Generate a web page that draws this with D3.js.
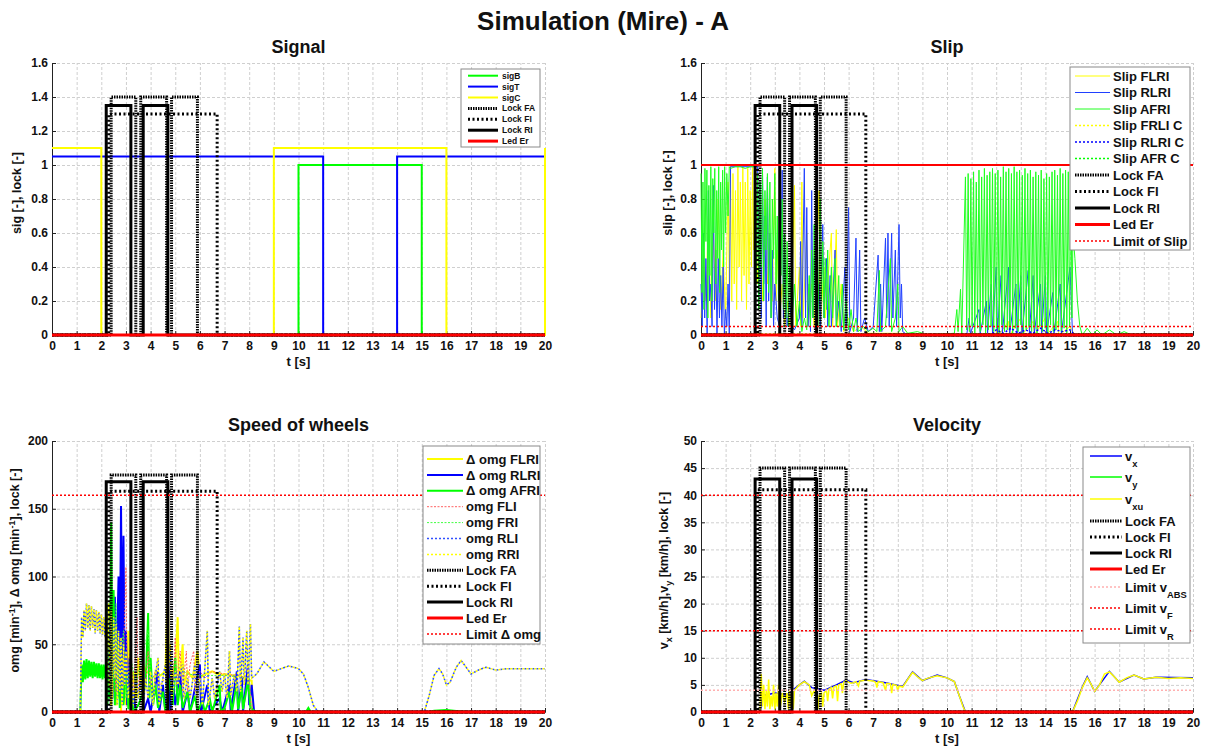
<!DOCTYPE html>
<html>
<head>
<meta charset="utf-8">
<script src="https://cdn.jsdelivr.net/npm/d3@7"></script>
<style>
body { margin: 0; background: #fff; }
text { font-family: "Liberation Sans", Arial, sans-serif; font-weight: bold; fill: #111; }
</style>
</head>
<body>
<div id="fig"></div>
<script>
// ---- data ----
var tTicks = [0,1,2,3,4,5,6,7,8,9,10,11,12,13,14,15,16,17,18,19,20];
var sigTicks = [0,0.2,0.4,0.6,0.8,1,1.2,1.4,1.6];
var omgTicks = [0,50,100,150,200];
var velTicks = [0,5,10,15,20,25,30,35,40,45,50];

// lock states (0/1), scaled per panel
var lockFA_t = [0,2.4,2.4,3.4,3.4,3.6,3.6,4.65,4.65,4.85,4.85,5.9,5.9,20];
var lockFA_s = [0,0,1,1,0,0,1,1,0,0,1,1,0,0];
var lockFI_t = [0,2.3,2.3,6.7,6.7,20];
var lockFI_s = [0,0,1,1,0,0];
var lockRI_t = [0,2.2,2.2,3.2,3.2,3.7,3.7,4.7,4.7,20];
var lockRI_s = [0,0,1,1,0,0,1,1,0,0];
var lockLevelsSig = [1.4, 1.3, 1.35];
var lockLevelsOmg = [175, 163, 170];
var lockLevelsVel = [45, 41, 43];

// Signal
var sigB = [[0,0],[10,0],[10,1],[15,1],[15,0],[20,0]];
var sigT = [[0,1.05],[11,1.05],[11,0],[14,0],[14,1.05],[20,1.05]];
var sigC = [[0,1.1],[2,1.1],[2,0],[9,0],[9,1.1],[16,1.1],[16,0],[20,0],[20,1.1]];
var ledEr = [[0,0],[20,0]];
var slipMax = [[0,1],[20,1]];
var slipLimit = [[0,0.05],[20,0.05]];

// Slip
var slipFLRI = [[0,0.1],[0.1,0.5],[0.2,0.2],[0.3,0.7],[0.4,0.1],[0.5,0.6],[0.6,0.2],[0.7,0.8],[0.8,0.15],[0.9,0.5],[1.0,0.1],[1.1,0.9],[1.15,0.3],[1.2,1.0],[1.25,0.2],[1.3,0.95],[1.35,0.3],[1.4,0.85],[1.45,0.15],[1.5,1.0],[1.55,0.4],[1.6,0.9],[1.65,0.2],[1.7,0.99],[1.75,0.35],[1.8,0.9],[1.85,0.15],[1.9,0.98],[1.95,0.3],[2.0,0.85],[2.05,0.4],[2.1,0.99],[2.15,0.5],[2.2,0.95],[2.3,0.3],[2.4,0.6],[2.5,0.2],[2.6,0.8],[2.7,0.3],[2.8,0.5],[2.9,0.2],[3.0,0.98],[3.05,0.2],[3.1,0.5],[3.2,0.1],[3.3,0.3],[3.4,0.05],[3.5,0.2],[3.6,0.05],[3.7,0.3],[3.8,0.88],[3.85,0.05],[4.0,0.4],[4.05,0.05],[4.1,0.9],[4.15,0.1],[4.3,0.6],[4.35,0.05],[4.5,0.3],[4.6,0.05],[4.8,0.85],[4.85,0.05],[5.0,0.4],[5.05,0.1],[5.3,0.6],[5.35,0.05],[5.5,0.62],[5.55,0.05],[5.7,0.3],[5.8,0.02],[6.0,0.1],[6.2,0.02],[6.5,0.05],[6.8,0.01],[8.0,0.01],[10.5,0],[12.0,0],[12.05,0.1],[12.1,0],[12.5,0.08],[12.55,0],[13.0,0.1],[13.05,0],[13.5,0.08],[13.55,0],[14.0,0.1],[14.05,0],[14.5,0.08],[14.55,0],[15.0,0.05],[15.2,0],[20,0]];
var slipRLRI = [[0,0.3],[0.05,0.05],[0.1,0.6],[0.15,0.1],[0.2,0.45],[0.25,0],[0.3,0.85],[0.35,0.2],[0.4,0.3],[0.45,0.05],[0.5,0.88],[0.55,0.15],[0.6,0.5],[0.65,0],[0.7,0.45],[0.75,0.1],[0.8,0.35],[0.85,0.05],[0.9,0.4],[0.95,0],[1.0,0.15],[1.05,0.05],[1.1,0.3],[1.15,0],[1.2,0.99],[1.5,0.99],[2.0,0.99],[2.3,0.99],[2.35,0.2],[2.4,0.9],[2.45,0.1],[2.5,0.95],[2.55,0.3],[2.6,0.7],[2.65,0.05],[2.7,0.93],[2.75,0.2],[2.8,0.6],[2.85,0.1],[2.9,0.5],[2.95,0.05],[3.0,0.3],[3.1,0.1],[3.2,0.05],[3.3,0.97],[3.35,0.1],[3.4,0.5],[3.5,0.05],[3.6,0.2],[3.7,0.05],[3.8,0.03],[4.0,0.1],[4.05,0.55],[4.1,0.05],[4.2,0.98],[4.25,0.1],[4.3,0.75],[4.35,0.05],[4.4,0.3],[4.45,0.02],[4.5,0.85],[4.55,0.1],[4.6,0.45],[4.7,0.05],[4.8,0.3],[4.85,0.05],[4.95,0.65],[5.0,0.1],[5.1,0.45],[5.15,0.05],[5.25,0.35],[5.3,0.05],[5.45,0.5],[5.5,0.05],[5.6,0.2],[5.7,0.02],[5.85,0.4],[5.9,0.05],[6.0,0.75],[6.05,0.02],[6.2,0.1],[6.3,0.57],[6.35,0.02],[6.45,0.5],[6.5,0.02],[6.65,0.1],[6.8,0.02],[7.0,0.05],[7.2,0.47],[7.25,0.02],[7.3,0.3],[7.35,0.02],[7.5,0.57],[7.55,0.1],[7.6,0.6],[7.65,0.05],[7.75,0.6],[7.8,0.1],[7.9,0.5],[7.95,0.05],[8.05,0.65],[8.1,0.1],[8.15,0.3],[8.2,0.02],[8.4,0],[10.8,0],[10.9,0.1],[10.95,0.01],[11.3,0.15],[11.35,0.01],[11.6,0.2],[11.65,0.01],[11.8,0.3],[11.85,0.01],[12.0,0.4],[12.05,0.01],[12.2,0.35],[12.25,0.01],[12.5,0.4],[12.55,0.01],[12.8,0.3],[12.85,0.01],[13.0,0.35],[13.05,0.01],[13.3,0.38],[13.35,0.01],[13.5,0.35],[13.55,0.01],[13.8,0.3],[13.85,0.01],[14.0,0.35],[14.05,0.01],[14.3,0.25],[14.35,0.01],[14.6,0.3],[14.65,0.01],[15.0,0.4],[15.1,0.01],[15.2,0],[20,0]];
var slipAFRI = [[0,0.95],[0.04,0.25],[0.08,0.9],[0.12,0.15],[0.16,0.98],[0.2,0.55],[0.24,0.97],[0.28,0.1],[0.32,0.88],[0.36,0.35],[0.4,0.99],[0.44,0.2],[0.48,0.92],[0.52,0.6],[0.56,0.98],[0.6,0.3],[0.64,0.85],[0.68,0.45],[0.72,0.99],[0.76,0.25],[0.8,0.9],[0.84,0.5],[0.88,0.97],[0.92,0.4],[0.96,0.99],[1.0,0.6],[1.05,0.95],[1.1,0.7],[1.15,0.99],[1.2,0.98],[1.4,0.99],[1.6,0.99],[1.8,0.98],[2.0,0.99],[2.2,0.99],[2.25,0.3],[2.3,0.95],[2.35,0.15],[2.4,0.9],[2.45,0.4],[2.5,0.98],[2.55,0.2],[2.6,0.85],[2.65,0.5],[2.7,0.95],[2.75,0.25],[2.8,0.9],[2.85,0.1],[2.9,0.8],[2.95,0.45],[3.0,0.95],[3.05,0.3],[3.1,0.7],[3.15,0.2],[3.2,0.9],[3.25,0.35],[3.3,0.8],[3.35,0.15],[3.4,0.6],[3.45,0.1],[3.5,0.55],[3.55,0.05],[3.6,0.4],[3.7,0.08],[3.8,0.3],[3.9,0.05],[4.0,0.2],[4.1,0.02],[4.2,0.1],[4.3,0.03],[4.4,0.35],[4.45,0.05],[4.5,0.5],[4.55,0.1],[4.6,0.65],[4.65,0.15],[4.7,0.4],[4.75,0.05],[4.85,0.8],[4.9,0.2],[4.95,0.55],[5.0,0.1],[5.05,0.45],[5.1,0.15],[5.15,0.5],[5.2,0.05],[5.3,0.4],[5.35,0.1],[5.45,0.45],[5.5,0.05],[5.6,0.35],[5.65,0.05],[5.75,0.3],[5.8,0.03],[5.9,0.2],[6.0,0.03],[6.1,0.15],[6.2,0.02],[6.3,0.1],[6.4,0.02],[6.6,0.05],[6.8,0.02],[7.0,0.04],[7.15,0.02],[7.25,0.38],[7.3,0.02],[7.5,0.05],[7.7,0.45],[7.75,0.02],[7.9,0.1],[8.0,0.3],[8.05,0.02],[8.2,0.05],[8.4,0.01],[8.8,0.02],[9.2,0],[10.3,0.01],[10.4,0.15],[10.45,0.02],[10.55,0.27],[10.6,0],
  [10.75,0.93],[10.8,0.03],[10.86,0.95],[10.91,0.02],[10.97,0.92],[11.02,0.05],[11.08,0.96],[11.13,0.01],[11.19,0.9],[11.24,0.04],[11.3,0.97],[11.35,0.02],[11.41,0.93],[11.46,0.06],[11.52,0.98],[11.57,0.01],[11.63,0.94],[11.68,0.03],[11.74,0.96],[11.79,0.05],[11.85,0.98],[11.9,0.02],[11.96,0.95],[12.01,0.04],[12.07,0.97],[12.12,0.01],[12.18,0.93],[12.23,0.06],[12.29,0.99],[12.34,0.02],[12.4,0.96],[12.45,0.03],[12.51,0.98],[12.56,0.05],[12.62,0.95],[12.67,0.01],[12.73,0.99],[12.78,0.04],[12.84,0.96],[12.89,0.02],[12.95,0.97],[13.0,0.06],[13.06,0.94],[13.11,0.01],[13.17,0.98],[13.22,0.03],[13.28,0.95],[13.33,0.05],[13.39,0.97],[13.44,0.02],[13.5,0.93],[13.55,0.04],[13.61,0.96],[13.66,0.01],[13.72,0.94],[13.77,0.05],[13.83,0.97],[13.88,0.02],[13.94,0.92],[13.99,0.04],[14.05,0.95],[14.1,0.01],[14.16,0.93],[14.21,0.06],[14.27,0.96],[14.32,0.02],[14.38,0.97],[14.43,0.03],[14.49,0.94],[14.54,0.05],[14.6,0.98],[14.65,0.02],[14.71,0.95],[14.76,0.04],[14.82,0.97],[14.87,0.01],[14.93,0.96],[14.98,0.05],[15.04,0.98],[15.08,0.1],[15.12,0.6],[15.2,0.45],[15.3,0.2],[15.4,0.05],[15.5,0],[15.7,0.04],[15.9,0],[16.1,0.03],[16.3,0],[16.6,0.03],[16.9,0],[17.2,0.02],[17.5,0],[20,0]];
var slipFRLIC = [[0,0.005],[20,0.005]];
var slipRLRIC = [[0,0],[11.8,0],[12,0.03],[12.3,0.01],[12.6,0.04],[12.9,0.01],[13.2,0.03],[13.5,0.01],[13.8,0.04],[14.1,0.01],[14.4,0.03],[14.7,0.02],[15,0.03],[15.2,0],[20,0]];
var slipAFRC = [[0,0.005],[20,0.005]];

// Speed of wheels
var dOmgFLRI = [[0,0],[2.2,0],[2.25,40],[2.3,10],[2.35,60],[2.4,5],[2.45,50],[2.5,15],[2.55,70],[2.6,5],[2.65,45],[2.7,20],[2.75,55],[2.8,0],[2.85,40],[2.9,10],[2.95,35],[3.0,5],[3.1,60],[3.15,5],[3.3,30],[3.4,10],[3.5,40],[3.6,20],[3.7,35],[3.8,30],[4.0,28],[4.1,5],[4.2,30],[4.4,27],[4.6,30],[4.7,90],[4.75,10],[4.9,30],[5.0,35],[5.1,70],[5.15,15],[5.3,50],[5.35,20],[5.5,30],[5.7,25],[5.9,45],[6.0,25],[6.2,28],[6.5,30],[6.8,27],[7.0,28],[7.3,27],[7.6,27],[7.9,24],[8.1,23],[8.15,0],[20,0]];
var dOmgRLRI = [[0,0],[2.2,0],[2.3,20],[2.4,60],[2.45,10],[2.55,85],[2.6,20],[2.7,100],[2.75,30],[2.8,152],[2.85,40],[2.9,130],[2.95,20],[3.0,60],[3.05,5],[3.15,40],[3.2,5],[3.3,15],[3.4,0],[3.7,0],[3.9,10],[4.0,0],[4.3,30],[4.35,0],[4.5,20],[4.6,0],[4.75,35],[4.8,0],[4.9,25],[5.0,5],[5.2,30],[5.3,0],[5.5,15],[5.6,0],[6.0,35],[6.05,0],[6.3,20],[6.4,0],[6.8,10],[6.9,0],[7.2,20],[7.25,0],[7.5,30],[7.55,0],[7.7,25],[7.75,0],[7.95,35],[8.0,5],[8.1,20],[8.2,0],[20,0]];
var dOmgAFRI = [[0,0],[1.15,0],[1.2,35],[1.25,22],[1.3,38],[1.35,24],[1.4,39],[1.45,25],[1.5,38],[1.55,26],[1.6,37],[1.65,25],[1.7,37],[1.75,26],[1.8,36],[1.85,25],[1.9,36],[1.95,25],[2.0,35],[2.05,24],[2.1,35],[2.15,25],[2.2,30],[2.25,5],[2.3,80],[2.35,10],[2.4,140],[2.45,20],[2.5,90],[2.55,5],[2.6,60],[2.65,10],[2.7,50],[2.75,3],[2.8,40],[2.9,5],[3.0,30],[3.1,2],[3.2,20],[3.3,0],[3.5,5],[3.8,20],[3.9,73],[3.95,10],[4.0,40],[4.1,5],[4.2,20],[4.3,3],[4.5,15],[4.6,0],[4.8,25],[4.9,5],[5.0,40],[5.1,5],[5.2,20],[5.3,3],[5.5,15],[5.6,0],[5.8,12],[5.9,0],[6.1,8],[6.2,0],[6.4,10],[6.5,0],[6.8,20],[6.85,0],[7.0,3],[7.2,15],[7.3,0],[7.5,22],[7.55,2],[7.7,18],[7.75,2],[7.95,23],[8.05,3],[8.2,1],[8.5,0],[10.3,0],[10.4,3],[10.5,0],[15.3,0],[15.5,1],[16,1.5],[16.5,0.5],[17,0],[20,0]];
var omgFLI = [[0,0],[2.2,0],[2.3,30],[2.4,10],[2.5,45],[2.6,15],[2.7,55],[2.8,20],[2.9,40],[3.0,107],[3.05,20],[3.2,50],[3.3,10],[3.45,70],[3.5,15],[3.6,30],[3.8,20],[3.9,45],[4.0,20],[4.2,30],[4.4,20],[4.6,25],[4.8,35],[4.9,20],[5.0,55],[5.05,20],[5.2,45],[5.3,15],[5.45,45],[5.5,15],[5.6,35],[5.75,45],[5.8,15],[6.0,30],[6.2,25],[6.5,30],[7.0,28],[7.5,27],[8.0,25],[8.1,0],[20,0]];
var omgFRI = [[0,0],[2.2,0],[2.35,50],[2.45,10],[2.6,80],[2.7,20],[2.9,60],[3.0,10],[3.2,40],[3.4,20],[3.9,60],[4.0,25],[4.5,28],[5.0,35],[5.5,28],[6.0,27],[7.0,27],[8.0,25],[8.1,0],[20,0]];
var omgRear = [[0,0],[1.15,0],[1.2,70],[1.25,55],[1.3,75],[1.35,60],[1.4,80],[1.45,62],[1.5,79],[1.55,60],[1.6,78],[1.65,62],[1.7,76],[1.75,58],[1.8,75],[1.85,60],[1.9,74],[1.95,58],[2.0,72],[2.05,57],[2.1,70],[2.15,55],[2.2,66],[2.25,30],[2.3,80],[2.35,20],[2.4,75],[2.45,10],[2.5,70],[2.55,25],[2.6,65],[2.65,5],[2.7,60],[2.75,15],[2.8,55],[2.85,5],[2.9,50],[2.95,20],[3.0,45],[3.1,10],[3.2,35],[3.3,5],[3.4,30],[3.5,10],[3.6,25],[3.7,3],[3.8,25],[3.9,10],[4.0,30],[4.1,5],[4.2,28],[4.3,40],[4.35,5],[4.45,20],[4.6,35],[4.65,5],[4.8,50],[4.85,8],[5.0,30],[5.1,20],[5.3,35],[5.35,10],[5.5,25],[5.6,10],[5.8,35],[5.85,10],[6.0,25],[6.1,5],[6.3,60],[6.35,5],[6.5,25],[6.6,10],[6.8,30],[6.9,15],[7.0,28],[7.1,10],[7.2,45],[7.25,12],[7.4,28],[7.5,15],[7.6,63],[7.65,15],[7.75,55],[7.8,20],[7.9,60],[7.95,20],[8.05,65],[8.1,25],[8.3,28],[8.6,37],[9.0,30],[9.3,32],[9.6,34],[10.0,32],[10.2,28],[10.4,18],[10.6,5],[10.8,0],[15.1,0],[15.3,12],[15.5,27],[15.7,32],[15.85,28],[16.0,20],[16.15,22],[16.4,33],[16.6,38],[16.8,33],[17.0,28],[17.3,31],[17.6,33],[18.0,31],[18.5,32],[19,32],[20,32]];
var omgLimit = [[0,160],[20,160]];

// Velocity
var vx = [[0,0],[2.4,0],[2.5,3],[3.0,3.5],[3.5,3.2],[4.0,5],[4.2,5.7],[4.5,4.5],[5.0,4],[5.5,5],[5.9,5.9],[6.2,5.4],[6.7,6],[7.5,5.4],[8.2,4.7],[8.6,7.4],[9.0,5.8],[9.6,6.8],[10.0,6.3],[10.3,5.6],[10.5,3],[10.75,0],[15.1,0],[15.5,4.6],[15.7,6.5],[16.0,3.8],[16.6,7.5],[17.0,5.5],[17.6,6.8],[18.0,6.1],[18.5,6.4],[20,6.3]];
var vy = [[0,0],[20,0]];
var vxu = [[0,0],[2.4,0],[2.45,7],[2.5,1],[2.55,5],[2.6,0.5],[2.65,4],[2.7,1],[2.75,6],[2.8,0.5],[2.85,3],[2.9,1],[2.95,5],[3.0,0.5],[3.05,3.5],[3.1,1],[3.15,5],[3.2,0],[3.3,3.5],[3.4,2],[3.5,3.5],[3.55,0.5],[3.6,4],[3.65,1],[3.7,3],[3.75,0.5],[3.8,4],[3.9,4.5],[4.0,5],[4.2,5.6],[4.4,5],[4.5,3],[4.6,4],[4.7,3.5],[4.75,0.5],[4.8,3],[4.9,3.5],[4.95,1],[5.0,3.5],[5.1,4],[5.15,2],[5.2,4.2],[5.3,4.5],[5.35,2.5],[5.4,4.6],[5.5,4.8],[5.55,2],[5.6,5],[5.7,5.2],[5.75,3.5],[5.8,5.5],[5.9,5.8],[6.0,5.5],[6.1,5.3],[6.2,5.4],[6.3,5.6],[6.4,4.8],[6.45,5.7],[6.6,5.8],[6.7,6],[6.8,5.8],[7.0,5.7],[7.1,5.5],[7.15,4.5],[7.2,5.6],[7.4,5.4],[7.5,4],[7.55,5.3],[7.7,5.2],[7.75,3.5],[7.8,5.1],[7.95,4.9],[8.0,3.8],[8.05,4.8],[8.2,4.6],[8.4,6],[8.6,7.3],[8.8,6.5],[9.0,5.8],[9.2,6.2],[9.6,6.7],[10.0,6.3],[10.3,5.6],[10.5,3],[10.65,1],[10.75,0],[15.1,0],[15.3,2],[15.5,4.5],[15.7,6.3],[15.85,5.2],[16.0,3.8],[16.2,5],[16.4,7],[16.6,7.4],[16.8,6.5],[17.0,5.5],[17.3,6.3],[17.6,6.8],[18.0,6.1],[18.5,6.4],[19.0,6.2],[19.5,6.3],[20,6.2]];
var vABS = [[0,4],[20,4]];
var vF = [[0,40],[20,40]];
var vR = [[0,15],[20,15]];

// ---- helpers ----
function lock(ts, ss, level) {
  return ts.map(function(t, i) { return [t, ss[i] * level]; });
}

var W = 1205, H = 746;
var svg = d3.select("#fig").append("svg").attr("width", W).attr("height", H);

svg.append("text").attr("x", 603).attr("y", 30).attr("text-anchor", "middle")
  .style("font-size", "26px").text("Simulation (Mire) - A");

var Y = "#ffff00", B = "#0000ff", G = "#00ff00", R = "#ff0000", K = "#000";
var FA = "1.5,1", FI = "2,2.5", DOT = "2,2";

function locks(levels) {
  return [
    {name: "Lock FA", data: lock(lockFA_t, lockFA_s, levels[0]), color: K, w: 3, dash: FA},
    {name: "Lock FI", data: lock(lockFI_t, lockFI_s, levels[1]), color: K, w: 3, dash: FI},
    {name: "Lock RI", data: lock(lockRI_t, lockRI_s, levels[2]), color: K, w: 3}
  ];
}

function panel(cfg) {
  var x = d3.scaleLinear().domain([0, 20]).range([cfg.x0, cfg.x1]);
  var y = d3.scaleLinear().domain([cfg.yTicks[0], cfg.yTicks[cfg.yTicks.length - 1]]).range([cfg.y1, cfg.y0]);
  var g = svg.append("g");
  var w = cfg.x1 - cfg.x0, h = cfg.y1 - cfg.y0;

  svg.append("clipPath").attr("id", "clip" + cfg.id).append("rect")
    .attr("x", cfg.x0 - 2).attr("y", cfg.y0 - 2).attr("width", w + 4).attr("height", h + 4);

  // grid
  g.append("g").attr("transform", "translate(0," + cfg.y1 + ")")
    .call(d3.axisBottom(x).tickValues(tTicks).tickSize(-h).tickFormat(""))
    .call(function(s) { s.select(".domain").remove(); s.selectAll("line").attr("stroke", "#cfcfcf").attr("stroke-dasharray", "3,2"); });
  g.append("g").attr("transform", "translate(" + cfg.x0 + ",0)")
    .call(d3.axisLeft(y).tickValues(cfg.yTicks).tickSize(-w).tickFormat(""))
    .call(function(s) { s.select(".domain").remove(); s.selectAll("line").attr("stroke", "#cfcfcf").attr("stroke-dasharray", "3,2"); });

  // axes
  var ax = g.append("g").attr("transform", "translate(0," + cfg.y1 + ")")
    .call(d3.axisBottom(x).tickValues(tTicks).tickSize(-4).tickPadding(6).tickFormat(d3.format("~g")));
  var ay = g.append("g").attr("transform", "translate(" + cfg.x0 + ",0)")
    .call(d3.axisLeft(y).tickValues(cfg.yTicks).tickSize(-4).tickPadding(4).tickFormat(d3.format("~g")));
  [ax, ay].forEach(function(a) {
    a.selectAll("text").style("font-size", "12px").style("font-family", "'Liberation Sans', Arial, sans-serif").style("font-weight", "bold").attr("fill", "#111");
    a.select(".domain").attr("stroke", "#222");
    a.selectAll(".tick line").attr("stroke", "#222");
  });

  // series
  var line = d3.line().x(function(d) { return x(d[0]); }).y(function(d) { return y(d[1]); });
  var sg = g.append("g").attr("clip-path", "url(#clip" + cfg.id + ")");
  cfg.series.forEach(function(s) {
    sg.append("path").attr("d", line(s.data)).attr("fill", "none")
      .attr("stroke", s.color).attr("stroke-width", s.w)
      .attr("stroke-dasharray", s.dash || null)
      .attr("stroke-dashoffset", s.off || 0)
      .attr("stroke-linejoin", "miter");
  });

  // titles
  var cx = (cfg.x0 + cfg.x1) / 2;
  g.append("text").attr("x", cx).attr("y", cfg.y0 - 10).attr("text-anchor", "middle").style("font-size", "18px").text(cfg.title);
  g.append("text").attr("x", cx).attr("y", cfg.y1 + 31).attr("text-anchor", "middle").style("font-size", "13px").text("t [s]");
  var yl = g.append("text").attr("transform", "translate(" + cfg.ylx + "," + ((cfg.y0 + cfg.y1) / 2 - 6) + ") rotate(-90)")
    .attr("text-anchor", "middle").style("font-size", "12.5px");
  cfg.ylabel.forEach(function(p) {
    var t = yl.append("tspan").text(p.t);
    if (p.sup) t.attr("dy", -4).style("font-size", "9px");
    if (p.sub) t.attr("dy", 4).style("font-size", "9px");
    if (p.back) t.attr("dy", p.back);
  });

  // legend
  var L = cfg.legend;
  var lg = g.append("g");
  lg.append("rect").attr("x", L.x).attr("y", L.y).attr("width", L.w).attr("height", L.h)
    .attr("fill", "#fff").attr("stroke", "#8a8a8a").attr("stroke-width", 1);
  L.items.forEach(function(it, i) {
    var s = cfg.series[it.s];
    var yy = L.rows[i];
    lg.append("line").attr("x1", L.lx0).attr("x2", L.lx1).attr("y1", yy).attr("y2", yy)
      .attr("stroke", s.color).attr("stroke-width", s.w).attr("stroke-dasharray", s.dash || null);
    var tx = lg.append("text").attr("x", L.tx).attr("y", yy + L.fs * 0.36).style("font-size", L.fs + "px");
    it.label.forEach(function(p) {
      var t = tx.append("tspan").text(p.t);
      if (p.sub) t.attr("dy", L.fs * 0.45).style("font-size", (L.fs * 0.72) + "px");
    });
  });
}

function rows(y0, dy, n) { var r = []; for (var i = 0; i < n; i++) r.push(y0 + i * dy); return r; }
function lbl(t) { return [{t: t}]; }

// ---- Signal ----
var sigLocks = locks(lockLevelsSig);
panel({
  id: 1, x0: 52, x1: 545, y0: 63, y1: 335, yTicks: sigTicks, title: "Signal", ylx: 21,
  ylabel: [{t: "sig [-], lock [-]"}],
  series: [
    {data: sigB, color: G, w: 2},
    {data: sigT, color: B, w: 2},
    {data: sigC, color: Y, w: 2},
    sigLocks[0], sigLocks[1], sigLocks[2],
    {data: ledEr, color: R, w: 3}
  ],
  legend: {x: 461, y: 69, w: 79, h: 78, lx0: 468, lx1: 498, tx: 502, fs: 8.5,
    rows: rows(75.7, 10.9, 7),
    items: [{s: 0, label: lbl("sigB")}, {s: 1, label: lbl("sigT")}, {s: 2, label: lbl("sigC")},
            {s: 3, label: lbl("Lock FA")}, {s: 4, label: lbl("Lock FI")}, {s: 5, label: lbl("Lock RI")},
            {s: 6, label: lbl("Led Er")}]}
});

// ---- Slip ----
var slipLocks = locks(lockLevelsSig);
panel({
  id: 2, x0: 701, x1: 1193, y0: 63, y1: 335, yTicks: sigTicks, title: "Slip", ylx: 672,
  ylabel: [{t: "slip [-], lock [-]"}],
  series: [
    {data: slipFLRI, color: Y, w: 1},
    {data: slipRLRI, color: "#2040ff", w: 1},
    {data: slipAFRI, color: "#20ff20", w: 1},
    {data: slipFRLIC, color: Y, w: 1.5, dash: DOT},
    {data: slipRLRIC, color: B, w: 1.5, dash: DOT},
    {data: slipAFRC, color: G, w: 1.5, dash: DOT},
    slipLocks[0], slipLocks[1], slipLocks[2],
    {data: ledEr, color: R, w: 3},
    {data: slipLimit, color: R, w: 1.5, dash: DOT},
    {data: slipMax, color: R, w: 2}
  ],
  legend: {x: 1070, y: 67, w: 120, h: 183, lx0: 1075, lx1: 1110, tx: 1113, fs: 13,
    rows: rows(76, 16.5, 11),
    items: [{s: 0, label: lbl("Slip FLRI")}, {s: 1, label: lbl("Slip RLRI")}, {s: 2, label: lbl("Slip AFRI")},
            {s: 3, label: lbl("Slip FRLI C")}, {s: 4, label: lbl("Slip RLRI C")}, {s: 5, label: lbl("Slip AFR C")},
            {s: 6, label: lbl("Lock FA")}, {s: 7, label: lbl("Lock FI")}, {s: 8, label: lbl("Lock RI")},
            {s: 9, label: lbl("Led Er")}, {s: 10, label: lbl("Limit of Slip")}]}
});

// ---- Speed of wheels ----
var omgLocks = locks(lockLevelsOmg);
panel({
  id: 3, x0: 52, x1: 545, y0: 441, y1: 712, yTicks: omgTicks, title: "Speed of wheels", ylx: 19,
  ylabel: [{t: "omg [min"}, {t: "-1", sup: true}, {t: "], \u0394 omg [min", back: 4}, {t: "-1", sup: true}, {t: "], lock [-]", back: 4}],
  series: [
    {data: dOmgFLRI, color: Y, w: 2},
    {data: dOmgRLRI, color: B, w: 2},
    {data: dOmgAFRI, color: G, w: 2},
    {data: omgFLI, color: "#ff6060", w: 1, dash: "2,1.5"},
    {data: omgFRI, color: "#40ff40", w: 1, dash: "2,1.5"},
    {data: omgRear, color: "#3050ff", w: 1.5, dash: "2,2"},
    {data: omgRear, color: "#ffff00", w: 1.5, dash: "2,2", off: 2},
    omgLocks[0], omgLocks[1], omgLocks[2],
    {data: ledEr, color: R, w: 3},
    {data: omgLimit, color: R, w: 1.5, dash: DOT}
  ],
  legend: {x: 423, y: 446, w: 117, h: 198, lx0: 427, lx1: 463, tx: 466, fs: 13,
    rows: rows(459, 15.9, 12),
    items: [{s: 0, label: lbl("\u0394 omg FLRI")}, {s: 1, label: lbl("\u0394 omg RLRI")}, {s: 2, label: lbl("\u0394 omg AFRI")},
            {s: 3, label: lbl("omg FLI")}, {s: 4, label: lbl("omg FRI")}, {s: 5, label: lbl("omg RLI")},
            {s: 6, label: lbl("omg RRI")}, {s: 7, label: lbl("Lock FA")}, {s: 8, label: lbl("Lock FI")},
            {s: 9, label: lbl("Lock RI")}, {s: 10, label: lbl("Led Er")}, {s: 11, label: lbl("Limit \u0394 omg")}]}
});

// ---- Velocity ----
var velLocks = locks(lockLevelsVel);
panel({
  id: 4, x0: 701, x1: 1193, y0: 441, y1: 712, yTicks: velTicks, title: "Velocity", ylx: 668,
  ylabel: [{t: "v"}, {t: "x", sub: true}, {t: " [km/h],v", back: -4}, {t: "y", sub: true}, {t: " [km/h], lock [-]", back: -4}],
  series: [
    {data: vx, color: B, w: 1.5},
    {data: vy, color: G, w: 1.5},
    {data: vxu, color: Y, w: 1.5},
    velLocks[0], velLocks[1], velLocks[2],
    {data: ledEr, color: R, w: 3},
    {data: vABS, color: "#ffb0b0", w: 1.5, dash: DOT},
    {data: vF, color: R, w: 1.5, dash: DOT},
    {data: vR, color: R, w: 1.5, dash: DOT}
  ],
  legend: {x: 1083, y: 447, w: 107, h: 196, lx0: 1090, lx1: 1122, tx: 1125, fs: 13,
    rows: [456, 477, 499, 521, 537, 553, 569, 587, 608, 629],
    items: [{s: 0, label: [{t: "v"}, {t: "x", sub: true}]}, {s: 1, label: [{t: "v"}, {t: "y", sub: true}]},
            {s: 2, label: [{t: "v"}, {t: "xu", sub: true}]},
            {s: 3, label: lbl("Lock FA")}, {s: 4, label: lbl("Lock FI")}, {s: 5, label: lbl("Lock RI")},
            {s: 6, label: lbl("Led Er")},
            {s: 7, label: [{t: "Limit v"}, {t: "ABS", sub: true}]},
            {s: 8, label: [{t: "Limit v"}, {t: "F", sub: true}]},
            {s: 9, label: [{t: "Limit v"}, {t: "R", sub: true}]}]}
});
</script>
</body>
</html>
